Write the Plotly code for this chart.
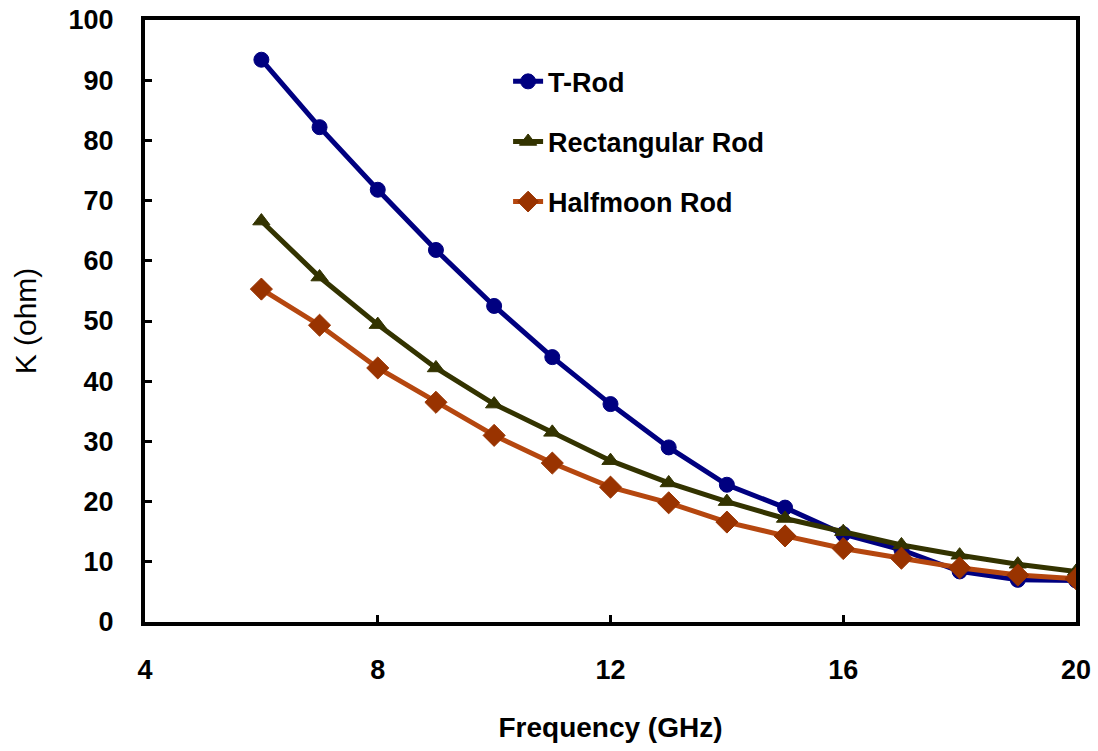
import plotly.graph_objects as go

freq = [6, 7, 8, 9, 10, 11, 12, 13, 14, 15, 16, 17, 18, 19, 20]
t_rod = [93.4, 82.2, 71.8, 61.8, 52.5, 44.0, 36.2, 29.0, 22.8, 19.0, 14.6, 12.0, 8.4, 7.0, 6.9]
rect_rod = [66.6, 57.3, 49.4, 42.2, 36.2, 31.5, 26.8, 23.1, 20.0, 17.2, 15.0, 12.8, 11.1, 9.6, 8.4]
half_rod = [55.3, 49.3, 42.2, 36.5, 31.0, 26.4, 22.4, 19.8, 16.6, 14.3, 12.2, 10.6, 9.0, 7.8, 7.2]
names = ["T-Rod", "Rectangular Rod", "Halfmoon Rod"]
x_ticks = [4, 8, 12, 16, 20]
y_ticks = [0, 10, 20, 30, 40, 50, 60, 70, 80, 90, 100]

series = [
    (t_rod, names[0], "#000080", "#000080", "circle", 15),
    (rect_rod, names[1], "#333300", "#333300", "triangle-up", 15),
    (half_rod, names[2], "#B5470F", "#993300", "diamond", 17),
]

fig = go.Figure()
for i, (vals, name, lc, mc, sym, ms) in enumerate(series):
    fig.add_trace(go.Scatter(
        x=freq, y=vals, name=name, mode="lines+markers",
        legendgroup=f"g{i}",
        line=dict(color=lc, width=5),
        marker=dict(symbol=sym, size=ms, color=mc, line=dict(color=mc, width=1)),
    ))

font_main = "Liberation Sans, Arial, sans-serif"
fig.update_layout(
    width=1098, height=751,
    margin=dict(l=145, r=22, t=20, b=129, autoexpand=False),
    paper_bgcolor="white", plot_bgcolor="white",
    font=dict(family=font_main, size=26, color="black", weight="bold"),
    showlegend=True,
    legend=dict(
        x=0.39, y=0.938, xanchor="left", yanchor="top",
        bgcolor="rgba(0,0,0,0)", traceorder="grouped", tracegroupgap=22,
        font=dict(size=27, family=font_main, weight="bold"),
    ),
    xaxis=dict(
        range=[4, 20], tickvals=x_ticks, ticks="inside", ticklen=7, tickwidth=3,
        tickcolor="black", showline=True, linewidth=4, linecolor="black", mirror=True,
        showgrid=False, zeroline=False, ticklabelstandoff=21, automargin=False,
        ticklabeloverflow="allow",
        tickfont=dict(size=27, family=font_main, weight="bold"),
        title=dict(text="Frequency (GHz)", standoff=34,
                   font=dict(size=28, family=font_main, weight="bold")),
    ),
    yaxis=dict(
        range=[0, 100], tickvals=y_ticks, ticks="inside", ticklen=7, tickwidth=3,
        tickcolor="black", showline=True, linewidth=4, linecolor="black", mirror=True,
        showgrid=False, zeroline=False, ticklabelstandoff=22, automargin=False,
        ticklabeloverflow="allow",
        tickfont=dict(size=27, family=font_main, weight="bold"),
        title=dict(text="K (ohm)", standoff=24,
                   font=dict(size=30, family=font_main, weight="normal")),
    ),
)

fig.write_html(
    "out.html",
    config={"displayModeBar": False},
    post_script="document.body.style.margin='0';document.body.style.overflow='hidden';",
)
